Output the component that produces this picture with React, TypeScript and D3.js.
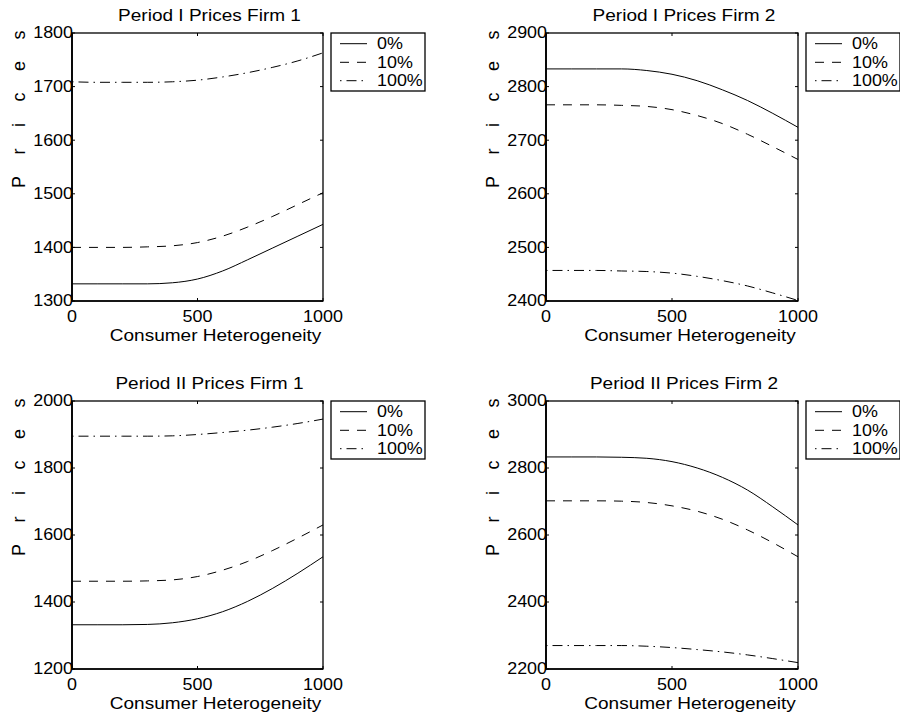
import React from "react";
import * as d3 from "d3";

// ---------- data ----------
const heterogeneity = [0, 100, 200, 300, 400, 500, 600, 700, 800, 900, 1000];
const legendLabels = ["0%", "10%", "100%"];
const xTicks = [0, 500, 1000];

const titles = [
  "Period I Prices Firm 1",
  "Period I Prices Firm 2",
  "Period II Prices Firm 1",
  "Period II Prices Firm 2",
];
const yTicksP1F1 = [1300, 1400, 1500, 1600, 1700, 1800];
const yTicksP1F2 = [2400, 2500, 2600, 2700, 2800, 2900];
const yTicksP2F1 = [1200, 1400, 1600, 1800, 2000];
const yTicksP2F2 = [2200, 2400, 2600, 2800, 3000];

// Period I, Firm 1
const p1f1_0 = [1332, 1332, 1332, 1332, 1334, 1341, 1356, 1377, 1399, 1421, 1443];
const p1f1_10 = [1400, 1400, 1400, 1401, 1403, 1409, 1421, 1438, 1458, 1480, 1502];
const p1f1_100 = [1709, 1708, 1708, 1708, 1709, 1712, 1718, 1726, 1736, 1748, 1763];
// Period I, Firm 2
const p1f2_0 = [2833, 2833, 2833, 2833, 2830, 2823, 2811, 2794, 2774, 2750, 2724];
const p1f2_10 = [2766, 2766, 2766, 2765, 2763, 2757, 2746, 2731, 2711, 2688, 2664];
const p1f2_100 = [2457, 2457, 2457, 2456, 2455, 2452, 2446, 2438, 2428, 2415, 2401];
// Period II, Firm 1
const p2f1_0 = [1332, 1332, 1332, 1333, 1338, 1350, 1371, 1402, 1441, 1486, 1535];
const p2f1_10 = [1462, 1462, 1462, 1463, 1466, 1476, 1495, 1521, 1554, 1591, 1630];
const p2f1_100 = [1895, 1895, 1895, 1895, 1896, 1900, 1906, 1913, 1922, 1933, 1946];
// Period II, Firm 2
const p2f2_0 = [2833, 2833, 2833, 2832, 2829, 2819, 2800, 2772, 2734, 2684, 2630];
const p2f2_10 = [2702, 2702, 2702, 2701, 2697, 2687, 2671, 2647, 2615, 2577, 2535];
const p2f2_100 = [2270, 2270, 2270, 2270, 2268, 2264, 2258, 2251, 2242, 2231, 2219];

const panelSeries = [
  [p1f1_0, p1f1_10, p1f1_100],
  [p1f2_0, p1f2_10, p1f2_100],
  [p2f1_0, p2f1_10, p2f1_100],
  [p2f2_0, p2f2_10, p2f2_100],
];
const panelTicks = [yTicksP1F1, yTicksP1F2, yTicksP2F1, yTicksP2F2];

// ---------- layout / style ----------
const W = 900;
const H = 716;
const FONT = "'Liberation Sans', Arial, Helvetica, sans-serif";
const SX = 1.12; // horizontal stretch of the reference text
const dashes = [null, "9,8", "1.5,5,10,5"];
const panelBoxes = [
  { left: 72, right: 323, top: 33, bottom: 301 },
  { left: 546, right: 798, top: 33, bottom: 301 },
  { left: 72, right: 323, top: 401, bottom: 669 },
  { left: 546, right: 798, top: 401, bottom: 669 },
];

function SText({ x, y, anchor = "start", size = 16, children, dy }: any) {
  return (
    <text
      transform={`translate(${x},${y}) scale(${SX},1)`}
      textAnchor={anchor}
      fontSize={size}
      fontFamily={FONT}
      fill="#000"
      dy={dy}
    >
      {children}
    </text>
  );
}

function Panel({ idx }: { idx: number }) {
  const b = panelBoxes[idx];
  const ticks = panelTicks[idx];
  const series = panelSeries[idx];
  const x = d3.scaleLinear().domain([0, 1000]).range([b.left, b.right]);
  const y = d3
    .scaleLinear()
    .domain([ticks[0], ticks[ticks.length - 1]])
    .range([b.bottom, b.top]);
  const line = d3
    .line<number>()
    .x((_, i) => x(heterogeneity[i]))
    .y((d) => y(d))
    .curve(d3.curveMonotoneX);
  const tl = 3;
  const lgLeft = b.right + 8;
  const lgTop = b.top;
  const lgW = 94;
  const lgH = 58;
  const rowY = [10.7, 29.3, 47.7];

  return (
    <g>
      {/* title */}
      <SText x={(b.left + b.right) / 2 + 12} y={b.top - 12} anchor="middle" size={17}>
        {titles[idx]}
      </SText>
      {/* series */}
      {series.map((s, i) => (
        <path
          key={i}
          d={line(s) || ""}
          fill="none"
          stroke="#000"
          strokeWidth={1}
          strokeDasharray={dashes[i] || undefined}
        />
      ))}
      {/* box */}
      <rect
        x={b.left}
        y={b.top}
        width={b.right - b.left}
        height={b.bottom - b.top}
        fill="none"
        stroke="#000"
        strokeWidth={1.3}
      />
      <line x1={b.left} x2={b.left} y1={b.top} y2={b.bottom} stroke="#000" strokeWidth={1.8} />
      <line x1={b.left} x2={b.right} y1={b.bottom} y2={b.bottom} stroke="#000" strokeWidth={1.6} />
      {/* y ticks */}
      {ticks.map((t) => (
        <g key={"y" + t}>
          <line x1={b.left} x2={b.left + tl} y1={y(t)} y2={y(t)} stroke="#000" strokeWidth={1} />
          <line x1={b.right} x2={b.right - tl} y1={y(t)} y2={y(t)} stroke="#000" strokeWidth={1} />
          <SText x={b.left + 1} y={y(t)} anchor="end" size={16} dy="0.34em">
            {d3.format("d")(t)}
          </SText>
        </g>
      ))}
      {/* x ticks */}
      {xTicks.map((t) => (
        <g key={"x" + t}>
          <line x1={x(t)} x2={x(t)} y1={b.bottom} y2={b.bottom - tl} stroke="#000" strokeWidth={1} />
          <line x1={x(t)} x2={x(t)} y1={b.top} y2={b.top + tl} stroke="#000" strokeWidth={1} />
          <SText x={x(t)} y={b.bottom + 21} anchor="middle" size={16}>
            {d3.format("d")(t)}
          </SText>
        </g>
      ))}
      {/* axis labels */}
      <SText x={(b.left + b.right) / 2 + 18} y={b.bottom + 39.5} anchor="middle" size={17}>
        Consumer Heterogeneity
      </SText>
      <text
        transform={`translate(${b.left - 47},${b.top + 155}) rotate(-90)`}
        fontSize={18}
        fontFamily={FONT}
        letterSpacing={21.5}
        fill="#000"
      >
        Prices
      </text>
      {/* legend */}
      <rect x={lgLeft} y={lgTop} width={lgW} height={lgH} fill="#fff" stroke="#000" strokeWidth={1.3} />
      {legendLabels.map((lab, i) => (
        <g key={lab}>
          <line
            x1={lgLeft + 9}
            x2={lgLeft + 36}
            y1={lgTop + rowY[i]}
            y2={lgTop + rowY[i]}
            stroke="#000"
            strokeWidth={1}
            strokeDasharray={dashes[i] || undefined}
          />
          <SText x={lgLeft + 46} y={lgTop + rowY[i]} anchor="start" size={16} dy="0.36em">
            {lab}
          </SText>
        </g>
      ))}
    </g>
  );
}

export default function App() {
  return (
    <svg
      width={W}
      height={H}
      style={{ position: "absolute", left: 0, top: 0, background: "#fff" }}
    >
      <rect width={W} height={H} fill="#fff" />
      {panelBoxes.map((_, i) => (
        <Panel key={i} idx={i} />
      ))}
    </svg>
  );
}
